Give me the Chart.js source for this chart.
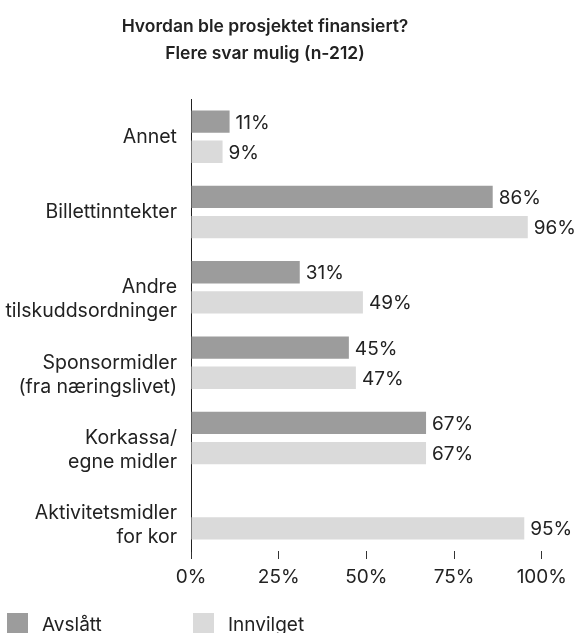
<!DOCTYPE html>
<html>
<head>
<meta charset="utf-8">
<script src="https://cdn.jsdelivr.net/npm/chart.js@4/dist/chart.umd.min.js"></script>
<style>
  html, body { margin: 0; padding: 0; background: #fff; }
  #wrap { width: 574px; height: 633px; position: relative; }
</style>
</head>
<body>
<div id="wrap"><canvas id="chart"></canvas></div>
<script>
const title = ['Hvordan ble prosjektet finansiert?', 'Flere svar mulig (n-212)'];
const categories = [
  'Annet',
  'Billettinntekter',
  ['Andre', 'tilskuddsordninger'],
  ['Sponsormidler', '(fra næringslivet)'],
  ['Korkassa/', 'egne midler'],
  ['Aktivitetsmidler', 'for kor'],
];
const avslatt = [11, 86, 31, 45, 67, null];
const innvilget = [9, 96, 49, 47, 67, 95];
const xTicks = [0, 25, 50, 75, 100];

const FONT = 'Inter, "Liberation Sans", Arial, sans-serif';
const TEXT = '#222';

// title is centred a bit left of the canvas middle, like the original
const titlePlugin = {
  id: 'titlePlugin',
  afterDraw(chart) {
    const { ctx } = chart;
    ctx.save();
    ctx.font = `600 17.5px ${FONT}`;
    ctx.fillStyle = TEXT;
    ctx.textAlign = 'center';
    ctx.textBaseline = 'alphabetic';
    title.forEach((line, i) => ctx.fillText(line, 265, 31.5 + i * 27.5));
    ctx.restore();
  },
};

// first line sits on the category centre, extra lines hang below it
const categoryLabels = {
  id: 'categoryLabels',
  afterDraw(chart) {
    const { ctx } = chart;
    const y = chart.scales.y;
    ctx.save();
    ctx.font = `19.5px ${FONT}`;
    ctx.fillStyle = TEXT;
    ctx.textAlign = 'right';
    ctx.textBaseline = 'alphabetic';
    categories.forEach((label, i) => {
      const py = y.getPixelForTick(i);
      [].concat(label).forEach((line, k) => {
        ctx.fillText(line, y.right - 14, py + 6 + k * 24);
      });
    });
    ctx.restore();
  },
};

const valueLabels = {
  id: 'valueLabels',
  afterDatasetsDraw(chart) {
    const { ctx } = chart;
    ctx.save();
    ctx.font = `19px ${FONT}`;
    ctx.fillStyle = TEXT;
    ctx.textBaseline = 'alphabetic';
    chart.data.datasets.forEach((ds, i) => {
      chart.getDatasetMeta(i).data.forEach((bar, j) => {
        const v = ds.data[j];
        if (v == null) return;
        ctx.fillText(v + '%', bar.x + 6, bar.y + 7);
      });
    });
    ctx.restore();
  },
};

const bottomLegend = {
  id: 'bottomLegend',
  afterDraw(chart) {
    const { ctx } = chart;
    ctx.save();
    ctx.font = `19px ${FONT}`;
    ctx.textBaseline = 'alphabetic';
    chart.data.datasets.forEach((ds, i) => {
      const x = 7 + i * 186;
      ctx.fillStyle = ds.backgroundColor;
      ctx.fillRect(x, 613, 21, 21);
      ctx.fillStyle = TEXT;
      ctx.fillText(ds.label, x + 35, 631);
    });
    ctx.restore();
  },
};

new Chart(document.getElementById('chart'), {
  type: 'bar',
  data: {
    labels: categories,
    datasets: [
      { label: 'Avslått', data: avslatt, backgroundColor: '#9c9c9c' },
      { label: 'Innvilget', data: innvilget, backgroundColor: '#dadada' },
    ],
  },
  options: {
    indexAxis: 'y',
    responsive: true,
    maintainAspectRatio: false,
    animation: false,
    categoryPercentage: 0.8,
    barPercentage: 0.74,
    layout: { padding: { top: 99, left: 0, right: 31, bottom: 42 } },
    plugins: {
      legend: { display: false },
      tooltip: { enabled: false },
    },
    scales: {
      x: {
        min: 0,
        max: 100,
        afterBuildTicks: (s) => { s.ticks = xTicks.map((v) => ({ value: v })); },
        afterFit: (s) => { s.height = 40; },
        ticks: {
          callback: (v) => v + '%',
          color: TEXT,
          font: { family: FONT, size: 19 },
          padding: 7,
        },
        grid: { drawOnChartArea: false, tickLength: 8, color: '#333' },
        border: { display: false },
      },
      y: {
        afterFit: (s) => { s.width = 191; },
        ticks: { display: false },
        grid: { display: false, drawTicks: false },
        border: { display: true, color: '#222', width: 1 },
      },
    },
  },
  plugins: [titlePlugin, categoryLabels, valueLabels, bottomLegend],
});
</script>
</body>
</html>
